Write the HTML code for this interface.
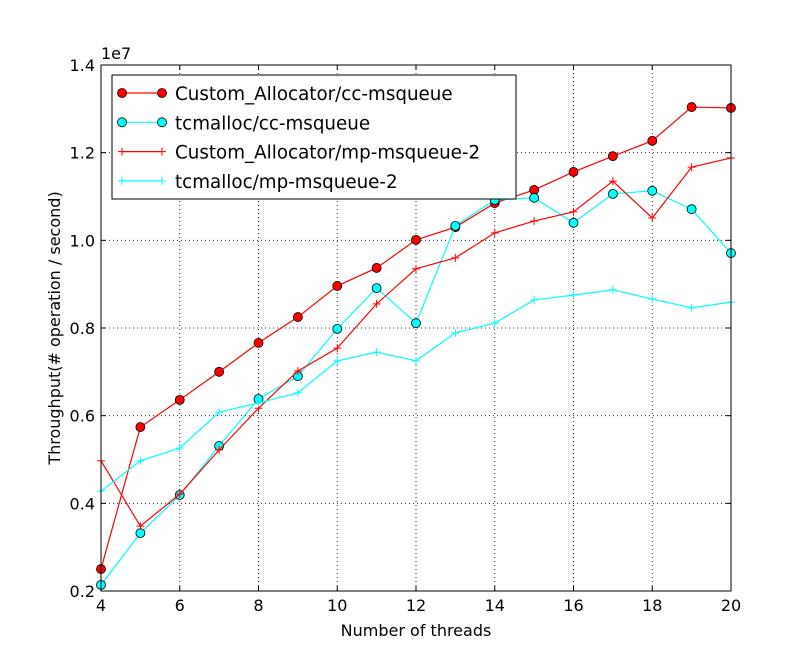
<!DOCTYPE html>
<html><head><meta charset="utf-8"><style>
body{margin:0;background:#fff;}
svg text{font-family:"DejaVu Sans","Liberation Sans",sans-serif;}
</style></head><body>
<svg id="chart" width="812" height="657" xmlns="http://www.w3.org/2000/svg">
<rect width="812" height="657" fill="#fff"/>
<g id="grid"></g><g id="series"></g><g id="axes"></g><g id="legend"></g>
</svg>
<script>
const threads=[4,5,6,7,8,9,10,11,12,13,14,15,16,17,18,19,20];
const customCC=[0.25,0.574,0.636,0.700,0.766,0.825,0.896,0.937,1.001,1.030,1.085,1.115,1.156,1.192,1.227,1.304,1.302];
const tcmallocCC=[0.214,0.332,0.419,0.531,0.638,0.690,0.798,0.891,0.811,1.033,1.092,1.097,1.040,1.106,1.113,1.071,0.971];
const customMP=[0.497,0.348,0.421,0.522,0.617,0.702,0.754,0.855,0.935,0.960,1.017,1.044,1.065,1.135,1.051,1.167,1.188];
const tcmallocMP=[0.428,0.497,0.526,0.608,0.629,0.652,0.725,0.745,0.725,0.789,0.811,0.864,0.875,0.887,0.866,0.846,0.859];
const xTicks=[4,6,8,10,12,14,16,18,20];
const yTicks=[0.2,0.4,0.6,0.8,1.0,1.2,1.4];
const seriesNames=["Custom_Allocator/cc-msqueue","tcmalloc/cc-msqueue","Custom_Allocator/mp-msqueue-2","tcmalloc/mp-msqueue-2"];

const L=101,R=731,T=65,B=591;
const xs=v=>L+(v-4)/(20-4)*(R-L);
const ys=v=>B-(v-0.2)/(1.4-0.2)*(B-T);
const NS="http://www.w3.org/2000/svg";
function mk(tag,attrs,parent,text){const e=document.createElementNS(NS,tag);for(const k in attrs)e.setAttribute(k,attrs[k]);if(text!==undefined)e.textContent=text;parent.appendChild(e);return e;}
const grid=document.getElementById('grid'),ser=document.getElementById('series'),ax=document.getElementById('axes'),leg=document.getElementById('legend');

xTicks.forEach(t=>{const x=xs(t);
 const g=mk('line',{x1:x,x2:x,y1:T,y2:B,stroke:'#000','stroke-dasharray':'1,3','stroke-width':0.8},grid);
 
 
 mk('line',{x1:x,x2:x,y1:B,y2:B-5,stroke:'#000'},ax);mk('line',{x1:x,x2:x,y1:T,y2:T+5,stroke:'#000'},ax);
 const lb=mk('text',{x:x,y:B+20,'text-anchor':'middle','font-size':16},ax,String(t));
 
 
});
yTicks.forEach(t=>{const y=ys(t);
 const g=mk('line',{x1:L,x2:R,y1:y,y2:y,stroke:'#000','stroke-dasharray':'1,3','stroke-width':0.8},grid);
 
 
 mk('line',{x1:L,x2:L+5,y1:y,y2:y,stroke:'#000'},ax);mk('line',{x1:R,x2:R-5,y1:y,y2:y,stroke:'#000'},ax);
 const lb=mk('text',{x:L-6,y:y+6,'text-anchor':'end','font-size':16},ax,t.toFixed(1));
 
 
});
const fr=mk('rect',{x:L,y:T,width:R-L,height:B-T,fill:'none',stroke:'#000'},ax);


const ex=mk('text',{x:L,y:T-6,'font-size':16},ax,'1e7');


const xt=mk('text',{x:(L+R)/2,y:636,'text-anchor':'middle','font-size':16},ax,'Number of threads');


const yt=mk('text',{x:60,y:(T+B)/2,'text-anchor':'middle','font-size':16,transform:'rotate(-90 60 '+(T+B)/2+')'},ax,'Throughput(# operation / second)');



function marker(g,x,y,type,color){
 if(type==='o'){const c=mk('circle',{cx:x,cy:y,r:4.5,fill:color,stroke:'#000','stroke-width':0.8},g);return c;}
 mk('line',{x1:x-4,x2:x+4,y1:y,y2:y,stroke:color,'stroke-width':1},g);
 mk('line',{x1:x,x2:x,y1:y-4,y2:y+4,stroke:color,'stroke-width':1},g);
}
const defs=[[customCC,'#ff0000','o','series-custom-cc'],[tcmallocCC,'#00ffff','o','series-tcmalloc-cc'],[customMP,'#ff0000','+','series-custom-mp'],[tcmallocMP,'#00ffff','+','series-tcmalloc-mp']];
defs.forEach(([vals,color,type,name])=>{
 const g=mk('g',{},ser);
 
 
 const pts=vals.map((v,i)=>xs(threads[i])+','+ys(v)).join(' ');
 mk('polyline',{points:pts,fill:'none',stroke:color,'stroke-width':1.2},g);
 vals.forEach((v,i)=>marker(g,xs(threads[i]),ys(v),type,color));
});

const lb=mk('rect',{x:112,y:75,width:404,height:124,fill:'#fff',stroke:'#000'},leg);


defs.forEach(([v,color,type],i)=>{
 const y=93+i*29.3;
 const g=mk('g',{},leg);
 
 
 mk('line',{x1:122,x2:162,y1:y,y2:y,stroke:color,'stroke-width':1.2},g);
 marker(g,122,y,type,color);marker(g,162,y,type,color);
 mk('text',{x:175,y:y+7,'font-size':18.3},g,seriesNames[i]);
});
</script>
</body></html>
